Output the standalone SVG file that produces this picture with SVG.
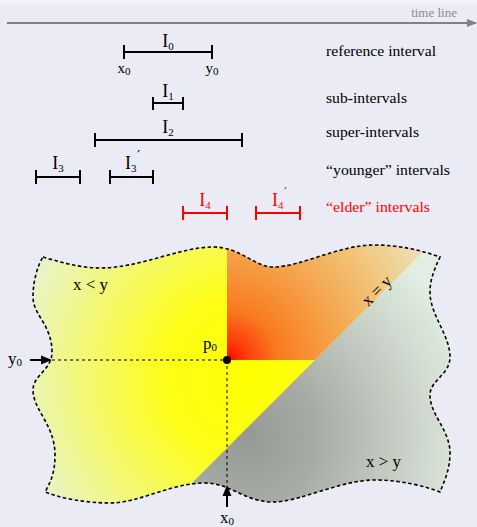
<svg xmlns="http://www.w3.org/2000/svg" width="477" height="527" viewBox="0 0 477 527">
<style>
text{font-family:"Liberation Serif","Times New Roman",serif;fill:#000}
.lab{font-size:15px}
.m{font-size:18px}
.s{font-size:11px}
.pr{font-size:14px;font-family:"DejaVu Serif",serif}
.red{fill:#ff0000}
.bar{stroke:#000;stroke-width:2;fill:none}
.rbar{stroke:#ff0000;stroke-width:2;fill:none}
.dash{stroke:#000;stroke-width:1;stroke-dasharray:3 3;fill:none}
</style>
<defs>
<linearGradient id="topband" x1="0" y1="0" x2="0" y2="1">
<stop offset="0" stop-color="#f4f4fb"/>
<stop offset="1" stop-color="#ebebf5"/>
</linearGradient>
<radialGradient id="gy" gradientUnits="userSpaceOnUse" cx="250" cy="375" r="245">
<stop offset="0" stop-color="#ffff00"/>
<stop offset="0.35" stop-color="#fdfd18"/>
<stop offset="0.7" stop-color="#f2f77a"/>
<stop offset="1" stop-color="#e6f3d4"/>
</radialGradient>
<radialGradient id="go" gradientUnits="userSpaceOnUse" cx="227" cy="360" r="230">
<stop offset="0" stop-color="#ff0000"/>
<stop offset="0.08" stop-color="#fd3a0c"/>
<stop offset="0.22" stop-color="#f97a20"/>
<stop offset="0.45" stop-color="#f6a046"/>
<stop offset="0.75" stop-color="#f1c880"/>
<stop offset="1" stop-color="#ebe4c4"/>
</radialGradient>
<radialGradient id="gg" gradientUnits="userSpaceOnUse" cx="245" cy="435" r="235">
<stop offset="0" stop-color="#959995"/>
<stop offset="0.3" stop-color="#a7aba5"/>
<stop offset="0.65" stop-color="#c6cec4"/>
<stop offset="1" stop-color="#e2eee2"/>
</radialGradient>
<clipPath id="blob">
<path d="M43,257 C60,262 80,268 100,268 C140,268 180,247 213,247 C240,247 255,267 273,267 C300,267 340,245 373,245 C400,245 420,250 440,257 C434,270 430,280 430,292 C430,315 450,335 450,357 C450,375 430,380 430,395 C430,415 450,430 450,453 C450,470 444,482 440,492 C425,486 400,480 375,480 C340,480 300,502 273,502 C245,502 230,483 205,483 C170,483 140,503 110,503 C85,503 60,498 45,492 C52,480 55,470 55,455 C55,425 33,410 33,390 C33,375 52,370 52,352 C52,325 33,315 33,297 C33,280 38,265 43,257 Z"/>
</clipPath>
<marker id="tl" markerWidth="10" markerHeight="8" refX="9" refY="4" orient="auto" markerUnits="userSpaceOnUse">
<path d="M0,0 L10,4 L0,8 Z" fill="#808080"/>
</marker>
</defs>
<rect width="477" height="527" fill="#ebebf5"/>
<rect width="477" height="8" fill="url(#topband)"/>

<g id="timeline">
<line x1="7" y1="23" x2="476" y2="23" stroke="#808080" stroke-width="2" marker-end="url(#tl)"/>
<text x="457" y="17" font-size="13" style="fill:#8c8c8c" text-anchor="end">time line</text>
</g>

<g id="I0">
<path class="bar" d="M124,52H212M124,45V59M212,45V59"/>
<text class="m" x="168" y="47" text-anchor="middle">I<tspan class="s" dy="3">0</tspan></text>
<text x="124" y="73" font-size="15" text-anchor="middle">x<tspan class="s" dy="2">0</tspan></text>
<text x="212" y="73" font-size="15" text-anchor="middle">y<tspan class="s" dy="2">0</tspan></text>
<text class="lab" x="326" y="56" textLength="110" lengthAdjust="spacingAndGlyphs">reference interval</text>
</g>
<g id="I1">
<path class="bar" d="M153,103H183M153,97V110M183,97V110"/>
<text class="m" x="168" y="97" text-anchor="middle">I<tspan class="s" dy="3">1</tspan></text>
<text class="lab" x="326" y="103" textLength="81" lengthAdjust="spacingAndGlyphs">sub-intervals</text>
</g>
<g id="I2">
<path class="bar" d="M95,140H242M95,133V147M242,133V147"/>
<text class="m" x="168" y="133" text-anchor="middle">I<tspan class="s" dy="3">2</tspan></text>
<text class="lab" x="326" y="137" textLength="93" lengthAdjust="spacingAndGlyphs">super-intervals</text>
</g>
<g id="I3">
<path class="bar" d="M36,177H80M36,170V184M80,170V184"/>
<text class="m" x="58" y="169" text-anchor="middle">I<tspan class="s" dy="3">3</tspan></text>
</g>
<g id="I3p">
<path class="bar" d="M110,177H153M110,170V184M153,170V184"/>
<text class="m" x="125" y="169">I<tspan class="s" dy="3">3</tspan><tspan class="pr" x="137" y="161">′</tspan></text>
<text class="lab" x="326" y="175" textLength="124" lengthAdjust="spacingAndGlyphs">“younger” intervals</text>
</g>
<g id="I4">
<path class="rbar" d="M183,213H227M183,206V220M227,206V220"/>
<text class="m red" x="205" y="206" text-anchor="middle">I<tspan class="s" dy="3">4</tspan></text>
</g>
<g id="I4p">
<path class="rbar" d="M256,213H300M256,206V220M300,206V220"/>
<text class="m red" x="272" y="206">I<tspan class="s" dy="3">4</tspan><tspan class="pr" x="284" y="198">′</tspan></text>
<text class="lab red" x="326" y="212" textLength="104" lengthAdjust="spacingAndGlyphs">“elder” intervals</text>
</g>

<g id="region" clip-path="url(#blob)">
<rect x="0" y="220" width="477" height="307" fill="url(#gy)"/>
<polygon points="227,220 455,220 315,360 227,360" fill="url(#go)"/>
<polygon points="455,220 480,220 480,530 145,530" fill="url(#gg)"/>
</g>
<g id="outline">
<path d="M43,257 C60,262 80,268 100,268 C140,268 180,247 213,247 C240,247 255,267 273,267 C300,267 340,245 373,245 C400,245 420,250 440,257 C434,270 430,280 430,292 C430,315 450,335 450,357 C450,375 430,380 430,395 C430,415 450,430 450,453 C450,470 444,482 440,492 C425,486 400,480 375,480 C340,480 300,502 273,502 C245,502 230,483 205,483 C170,483 140,503 110,503 C85,503 60,498 45,492 C52,480 55,470 55,455 C55,425 33,410 33,390 C33,375 52,370 52,352 C52,325 33,315 33,297 C33,280 38,265 43,257 Z" fill="none" stroke="#000" stroke-width="1.6" stroke-dasharray="3.5 2.5"/>
</g>
<g id="connectors">
<line class="dash" x1="52" y1="360" x2="227" y2="360"/>
<line class="dash" x1="227" y1="360" x2="227" y2="485"/>
<line x1="30" y1="360" x2="44" y2="360" stroke="#000" stroke-width="2"/>
<polygon points="41,355.5 52,360 41,364.5" fill="#000"/>
<line x1="227" y1="507" x2="227" y2="494" stroke="#000" stroke-width="2"/>
<polygon points="222.5,496 227,485 231.5,496" fill="#000"/>
</g>
<g id="p0">
<circle cx="227" cy="360" r="4" fill="#000"/>
<text x="203" y="349" font-size="17">p<tspan class="s" dy="2">0</tspan></text>
</g>
<g id="labels">
<text x="8" y="364" font-size="17">y<tspan class="s" dy="2">0</tspan></text>
<text x="220" y="523" font-size="17">x<tspan class="s" dy="2">0</tspan></text>
<text x="73" y="290" font-size="17">x &lt; y</text>
<text x="366" y="467" font-size="17">x &gt; y</text>
<text x="377" y="296" font-size="17" text-anchor="middle" transform="rotate(-45 377 291)">x = y</text>
</g>
</svg>
